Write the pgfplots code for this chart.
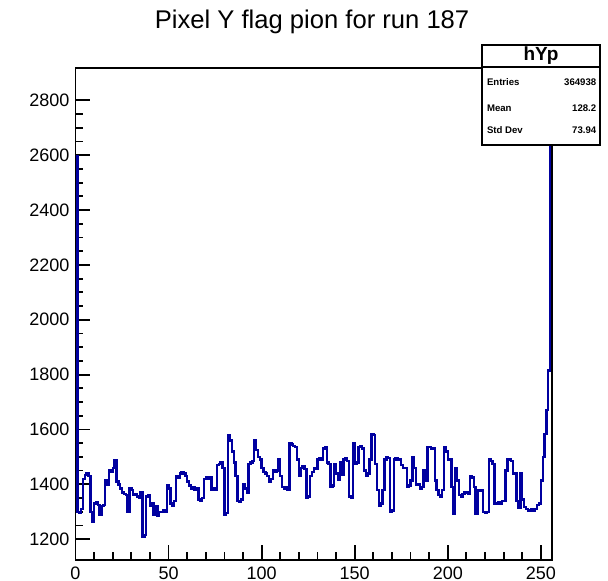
\documentclass[border=0pt]{standalone}
\usepackage{fontspec}
\setmainfont{Liberation Sans}
\usepackage{pgfplots}
\pgfplotsset{compat=1.18}
\usepackage{pgfplotstable}
\definecolor{rootblue}{RGB}{0,0,160}
\pgfplotstableread{
x y
0 2595
1 1300
2 1295
3 1310
4 1420
5 1435
6 1440
7 1430
8 1300
9 1265
10 1330
11 1335
12 1325
13 1290
14 1320
15 1325
16 1415
17 1400
18 1450
19 1445
20 1460
21 1487
22 1410
23 1400
24 1385
25 1370
26 1365
27 1360
28 1300
29 1385
30 1380
31 1360
32 1365
33 1355
34 1350
35 1370
36 1210
37 1215
38 1355
39 1360
40 1320
41 1330
42 1290
43 1320
44 1285
45 1300
46 1300
47 1305
48 1300
49 1395
50 1385
51 1330
52 1320
53 1340
54 1430
55 1425
56 1440
57 1445
58 1440
59 1430
60 1410
61 1395
62 1385
63 1390
64 1380
65 1385
66 1345
67 1340
68 1350
69 1420
70 1425
71 1420
72 1425
73 1380
74 1385
75 1380
76 1470
77 1475
78 1480
79 1460
80 1290
81 1295
82 1578
83 1560
84 1520
85 1480
86 1430
87 1340
88 1335
89 1345
90 1400
91 1385
92 1370
93 1475
94 1480
95 1485
96 1560
97 1525
98 1500
99 1490
100 1460
101 1445
102 1440
103 1430
104 1410
105 1420
106 1450
107 1445
108 1450
109 1490
110 1430
111 1390
112 1385
113 1390
114 1380
115 1550
116 1545
117 1540
118 1535
119 1490
120 1430
121 1460
122 1465
123 1455
124 1350
125 1355
126 1430
127 1445
128 1460
129 1455
130 1490
131 1495
132 1490
133 1530
134 1535
135 1480
136 1475
137 1390
138 1395
139 1475
140 1440
141 1415
142 1480
143 1435
144 1490
145 1495
146 1485
147 1355
148 1350
149 1550
150 1475
151 1480
152 1535
153 1540
154 1530
155 1450
156 1430
157 1440
158 1490
159 1584
160 1580
161 1475
162 1380
163 1320
164 1330
165 1380
166 1490
167 1500
168 1495
169 1300
170 1305
171 1490
172 1495
173 1490
174 1490
175 1470
176 1460
177 1460
178 1390
179 1395
180 1414
181 1500
182 1460
183 1400
184 1400
185 1385
186 1390
187 1450
188 1414
189 1536
190 1535
191 1530
192 1530
193 1414
194 1380
195 1360
196 1354
197 1380
198 1536
199 1520
200 1490
201 1490
202 1390
203 1293
204 1460
205 1414
206 1360
207 1355
208 1365
209 1370
210 1370
211 1365
212 1430
213 1425
214 1390
215 1293
216 1380
217 1375
218 1380
219 1300
220 1295
221 1300
222 1490
223 1485
224 1475
225 1330
226 1330
227 1335
228 1330
229 1340
230 1340
231 1450
232 1490
233 1490
234 1485
235 1440
236 1440
237 1340
238 1315
239 1440
240 1345
241 1318
242 1310
243 1305
244 1305
245 1310
246 1305
247 1310
248 1325
249 1330
250 1414
251 1500
252 1584
253 1670
254 1815
255 2830
256 2830
}\histdata

\begin{document}
\begin{tikzpicture}[x=1pt,y=1pt]
\useasboundingbox (0,0) rectangle (304,290.5);
\begin{axis}[
  at={(37.75pt,10.5pt)}, anchor=south west,
  scale only axis, width=238.25pt, height=246pt,
  xmin=0, xmax=256, ymin=1124, ymax=2918,
  xtick={0,50,...,250}, minor x tick num=4,
  ytick={1200,1400,...,2800}, minor y tick num=3,
  tick align=inside, tick pos=left,
  major tick length=7.3pt, minor tick length=3.9pt,
  axis line style={line width=0.9pt},
  tick style={black, line width=0.9pt},
  /pgf/number format/assume math mode=true,
  /pgf/number format/1000 sep={},
  tick label style={font=\fontsize{9}{10}\selectfont},
  yticklabel style={xshift=0.5pt},
]
\addplot[const plot mark left, rootblue, line width=1.2pt, mark=none] table[x=x,y=y] {\histdata};
\end{axis}
\node[font=\fontsize{12.8}{14}\selectfont, inner sep=0] at (156,279.5) {Pixel Y flag pion for run 187};
\draw[fill=white, line width=0.9pt] (241,218) rectangle (300,268);
\draw[line width=0.9pt] (241,257) -- (300,257);
\node[font=\fontsize{9.5}{10}\bfseries\selectfont, inner sep=0] at (270.5,262.5) {hYp};
\begin{scope}[every node/.style={inner sep=0, font=\fontsize{4.8}{5}\bfseries\selectfont}]
\node[anchor=west] at (243.3,249.6) {Entries};
\node[anchor=east] at (298.3,249.6) {364938};
\node[anchor=west] at (243.3,236.3) {Mean};
\node[anchor=east] at (298.3,236.3) {128.2};
\node[anchor=west] at (243.3,225.5) {Std Dev};
\node[anchor=east] at (298.3,225.5) {73.94};
\end{scope}
\end{tikzpicture}
\end{document}
